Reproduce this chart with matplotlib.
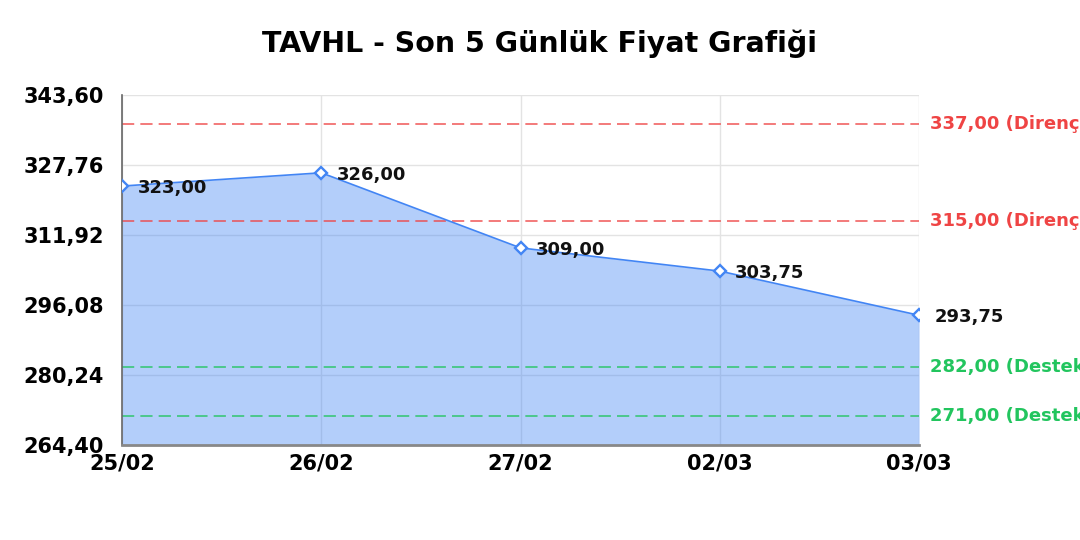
import numpy as np
import matplotlib.pyplot as plt

plt.rcParams['font.family'] = ['DejaVu Sans']

# TAVHL son 5 gun kapanis fiyatlari
dates = ['25/02', '26/02', '27/02', '02/03', '03/03']
prices = [323.00, 326.00, 309.00, 303.75, 293.75]

# destek / direnc seviyeleri
resistance = [337.00, 315.00]
support = [282.00, 271.00]

y_min, y_max = 264.40, 343.60
y_ticks = np.linspace(y_min, y_max, 6)


def tr_fmt(v):
    return f'{v:.2f}'.replace('.', ',')


fig = plt.figure(figsize=(10.8, 5.4), dpi=100)
ax = fig.add_axes([0.113, 0.176, 0.738, 0.648])

x = np.arange(len(dates))
ax.fill_between(x, prices, y_min, color='#4285f4', alpha=0.4, linewidth=0, zorder=1)
ax.plot(x, prices, color='#4285f4', linewidth=1.2, zorder=3)
ax.plot(x, prices, linestyle='none', marker='D', markersize=6.5,
        markerfacecolor='white', markeredgecolor='#4285f4', markeredgewidth=1.7, zorder=4)

for xi, p in zip(x, prices):
    ax.annotate(tr_fmt(p), (xi, p), xytext=(11, -1.5), textcoords='offset points',
                ha='left', va='center', fontsize=13, fontweight='bold', color='#111111',
                zorder=5)

for lvl in resistance:
    ax.axhline(lvl, color='#ef4444', linestyle=(0, (8, 4)), linewidth=1.1, alpha=0.9, zorder=2)
    ax.text(1.014, lvl, tr_fmt(lvl) + ' (Direnç)', transform=ax.get_yaxis_transform(),
            ha='left', va='center', fontsize=13, fontweight='bold', color='#ef4444',
            clip_on=False)
for lvl in support:
    ax.axhline(lvl, color='#22c55e', linestyle=(0, (8, 4)), linewidth=1.1, alpha=0.9, zorder=2)
    ax.text(1.014, lvl, tr_fmt(lvl) + ' (Destek)', transform=ax.get_yaxis_transform(),
            ha='left', va='center', fontsize=13, fontweight='bold', color='#22c55e',
            clip_on=False)

ax.set_xlim(0, len(dates) - 1)
ax.set_ylim(y_min, y_max)
ax.set_xticks(x)
ax.set_xticklabels(dates, fontsize=15, fontweight='bold')
ax.set_yticks(y_ticks)
ax.set_yticklabels([tr_fmt(v) for v in y_ticks], fontsize=15, fontweight='bold')
ax.tick_params(axis='both', length=0)
ax.tick_params(axis='y', pad=13)
ax.tick_params(axis='x', pad=6)

ax.grid(True, color='#e3e3e3', linewidth=1, zorder=0)
ax.set_axisbelow(True)
for side in ['top', 'right']:
    ax.spines[side].set_visible(False)
ax.spines['left'].set_color('#666666')
ax.spines['left'].set_linewidth(1.2)
ax.spines['bottom'].set_color('#888888')
ax.spines['bottom'].set_linewidth(2)

fig.suptitle('TAVHL - Son 5 Günlük Fiyat Grafiği', fontsize=20.5, fontweight='bold', y=0.945)

fig.savefig('out.png', dpi=100)
